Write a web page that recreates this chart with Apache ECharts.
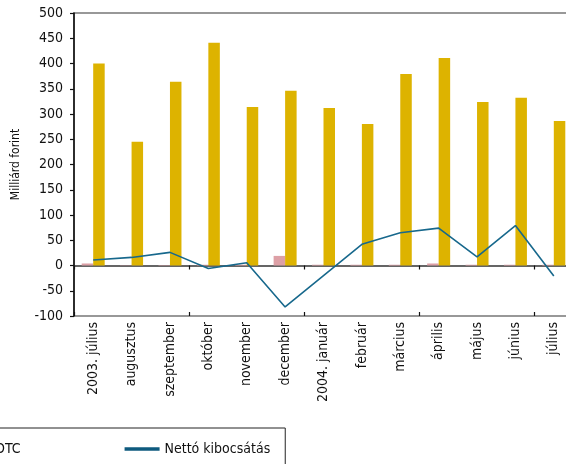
<!DOCTYPE html>
<html><head><meta charset="utf-8">
<script src="https://cdn.jsdelivr.net/npm/echarts@6/dist/echarts.min.js"></script>
<style>html,body{margin:0;padding:0;background:#fff}#c{width:566px;height:464px}</style>
</head><body><div id="c"></div>
<script>
const categories = ['2003. július','augusztus','szeptember','október','november','december','2004. január','február','március','április','május','június','július'];
const tozsde = [400, 245, 364, 441, 314, 346, 312, 280, 379, 411, 324, 332, 286];
const otc = [4, 0.5, 0.8, 1.5, 1.5, 19, 1.5, 1.5, 1.5, 4, 1.5, 1.5, 1.5];
const netto = [11, 16, 26, -6, 5.5, -82, -20, 42, 65, 74, 17, 79, -21];
const yTicks = {min: -100, max: 500, interval: 50};

const FONT = '"Liberation Sans Narrow", "DejaVu Sans Condensed", sans-serif';
const chart = echarts.init(document.getElementById('c'), null, {renderer: 'canvas'});
chart.setOption({
  animation: false,
  grid: {left: 74, right: -7, top: 13, bottom: 148, show: true, borderColor: '#333', borderWidth: 1.2, backgroundColor: 'transparent', containLabel: false, outerBoundsMode: 'none'},
  legend: {
    left: -70, top: 428,
    padding: [14, 15, 20, 25],
    itemGap: 104, itemWidth: 35, itemHeight: 3.5,
    borderColor: '#222', borderWidth: 1,
    textStyle: {fontFamily: FONT, fontSize: 14, color: '#111'},
    data: [
      {name: 'OTC', icon: 'rect'},
      {name: 'Nettó kibocsátás', icon: 'rect', itemStyle: {color: '#0e5a7e'}}
    ]
  },
  xAxis: [
    {type: 'category', data: categories, axisLine: {onZero: true, lineStyle: {color: '#333', width: 1.5}},
     axisTick: {show: true, length: 4, lineStyle: {color: '#111', width: 1.2}}, axisLabel: {show: false}, splitLine: {show: false}},
    {type: 'category', data: categories, position: 'bottom', axisLine: {show: true, onZero: true, lineStyle: {color: 'rgba(0,0,0,0)'}},
     axisTick: {show: true, inside: true, length: 4, lineStyle: {color: '#111', width: 1.2}}, axisLabel: {show: false}},
    {type: 'category', data: categories, position: 'bottom', axisLine: {show: false, onZero: false},
     axisTick: {show: false},
     axisLabel: {show: true, rotate: 90, margin: 6, interval: 0, fontFamily: FONT, fontSize: 14, color: '#111', padding: [0, 0, 8, 0]}}
  ],
  yAxis: {
    type: 'value', min: yTicks.min, max: yTicks.max, interval: yTicks.interval,
    name: 'Milliárd forint', nameLocation: 'middle', nameGap: 52, nameRotate: 90, nameMoveOverlap: false,
    nameTextStyle: {fontFamily: FONT, fontSize: 12, color: '#111'},
    axisLine: {show: true, lineStyle: {color: '#111', width: 1.5}},
    axisTick: {show: true, length: 4, lineStyle: {color: '#111', width: 1.2}},
    axisLabel: {fontFamily: FONT, fontSize: 14, color: '#111', margin: 11},
    splitLine: {show: false}
  },
  series: [
    {name: 'OTC', type: 'bar', data: otc, barWidth: 11.5, barGap: '0%', itemStyle: {color: '#DDA0A6'}},
    {name: 'Tőzsde', type: 'bar', data: tozsde, barWidth: 11.5, barGap: '0%', itemStyle: {color: '#DDB300'}},
    {name: 'Nettó kibocsátás', type: 'line', data: netto, symbol: 'none', lineStyle: {color: '#17688C', width: 1.6}, itemStyle: {color: '#17688C'}, z: 5}
  ]
});
</script></body></html>
